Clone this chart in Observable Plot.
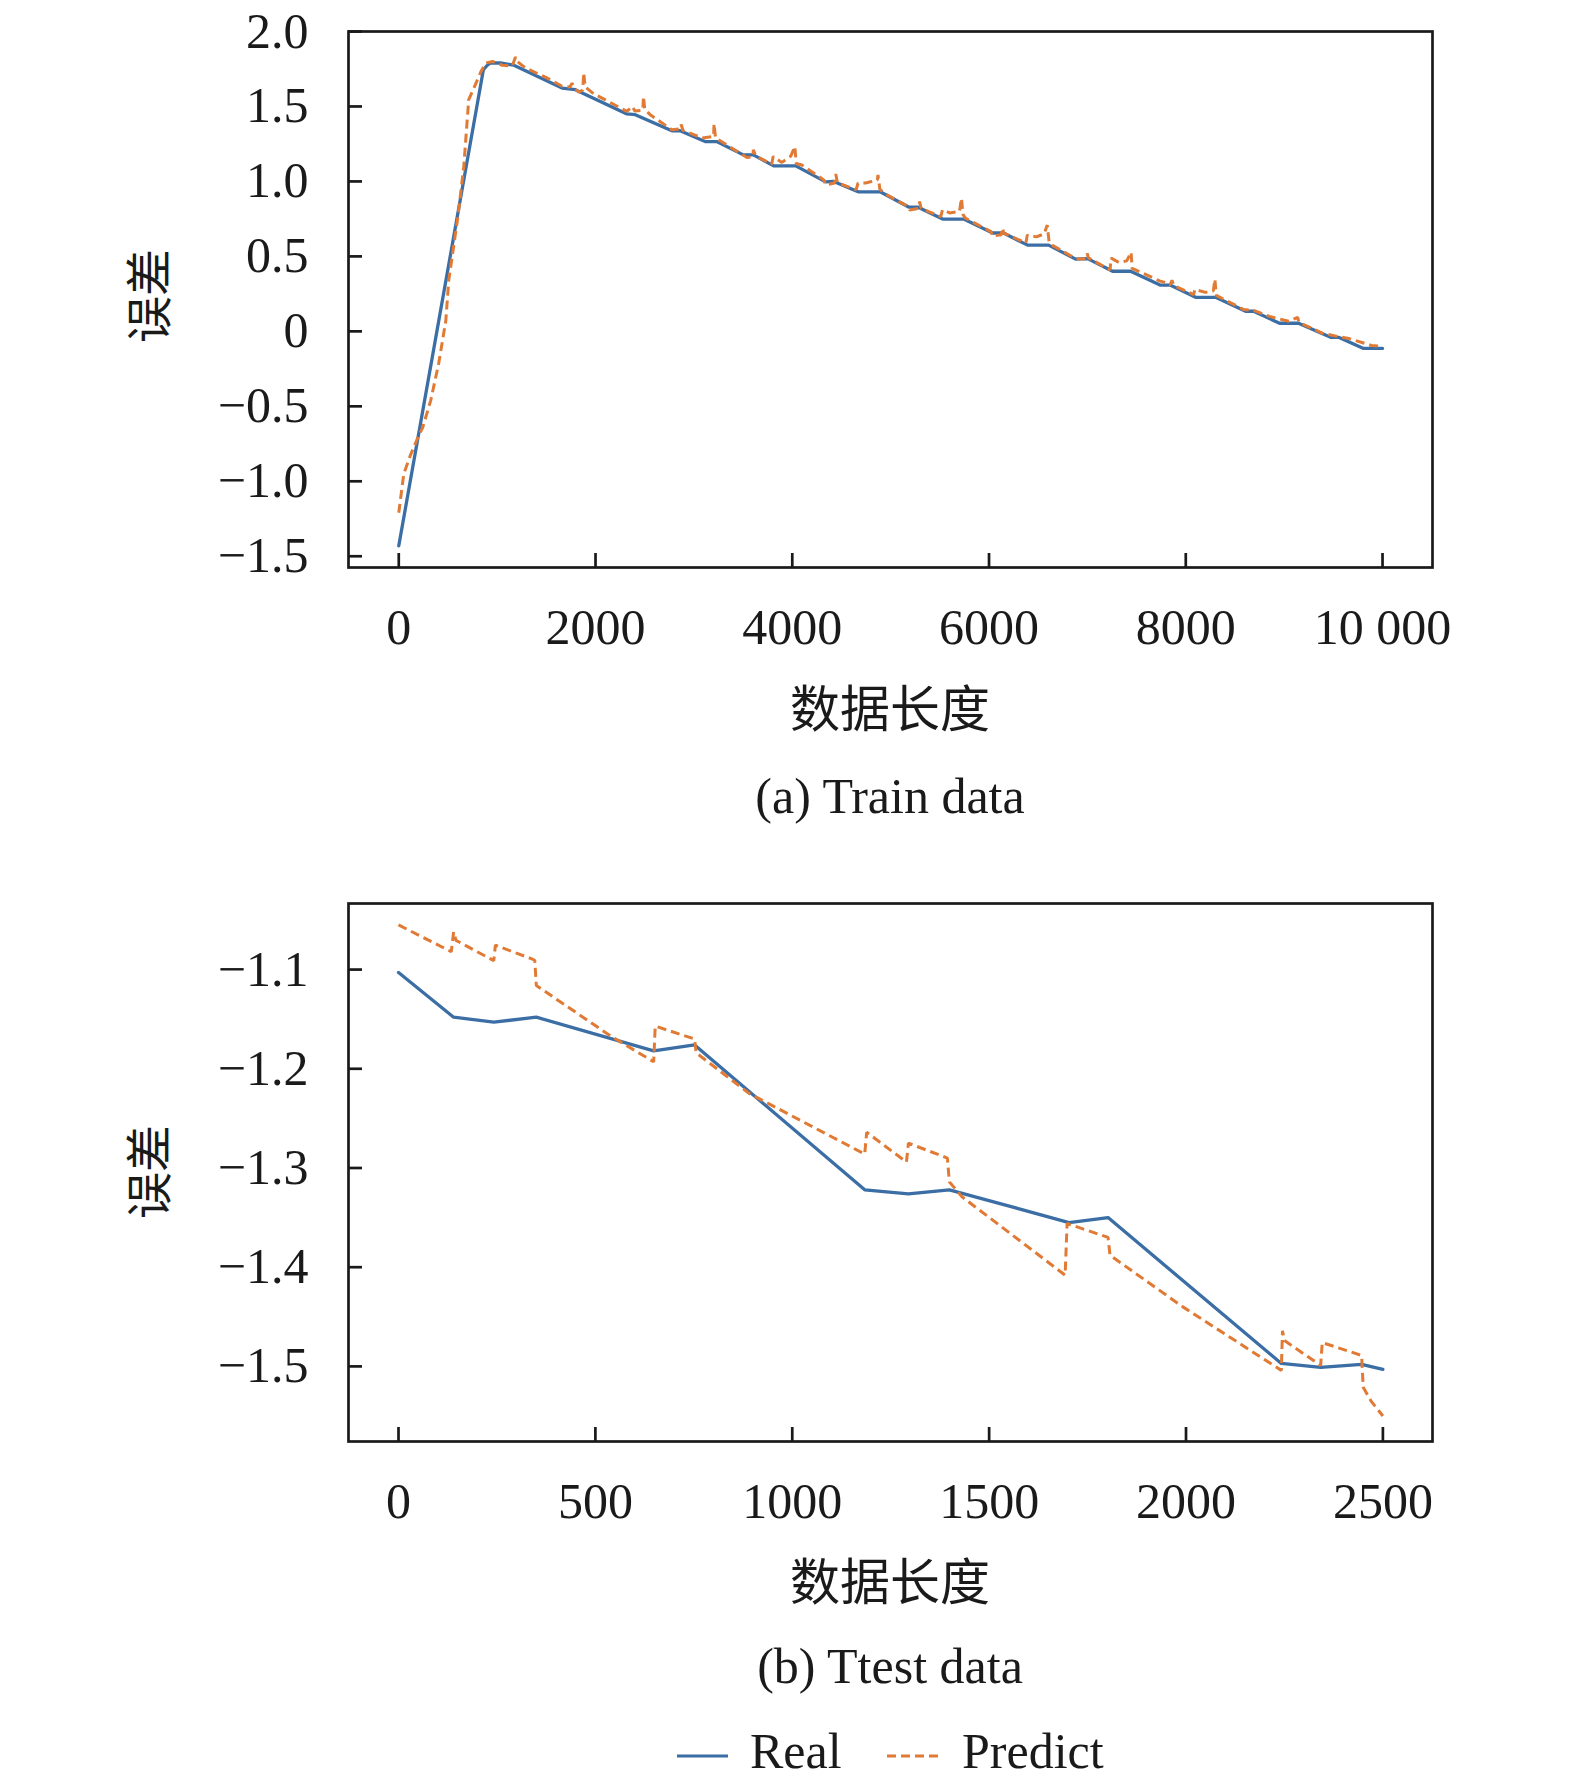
<!DOCTYPE html>
<html><head><meta charset="utf-8">
<script src="https://cdn.jsdelivr.net/npm/d3@7"></script>
<script src="https://cdn.jsdelivr.net/npm/@observablehq/plot@0.6"></script>
<style>
html,body{margin:0;padding:0;background:#fff;}
#root{position:relative;width:1575px;height:1789px;overflow:hidden;font-family:"Liberation Serif","Times New Roman",serif;color:#1a1a1a;}
.abs{position:absolute;white-space:nowrap;}
.cjk{font-family:"Noto Sans CJK SC","Noto Sans CJK TC",sans-serif;}
.ser{font-family:"Liberation Serif","Times New Roman",serif;}
.plot{position:absolute;left:0;}
</style></head><body><div id="root"></div>
<script>
// ---------- data ----------
const trainRealX = [0, 860, 900, 933, 1034, 1170, 1660, 1795, 2319, 2404, 2776, 2860, 3114, 3232, 3502, 3604, 3811, 4035, 4339, 4421, 4675, 4898, 5183, 5274, 5528, 5742, 6037, 6148, 6392, 6606, 6880, 7002, 7256, 7439, 7744, 7846, 8100, 8303, 8608, 8689, 8953, 9146, 9472, 9553, 9807, 10000];
const trainRealY = [-1.43, 1.745, 1.775, 1.79, 1.79, 1.775, 1.623, 1.612, 1.45, 1.445, 1.338, 1.338, 1.266, 1.266, 1.177, 1.177, 1.104, 1.104, 0.997, 1.0, 0.93, 0.93, 0.829, 0.829, 0.749, 0.749, 0.656, 0.656, 0.575, 0.575, 0.482, 0.485, 0.401, 0.401, 0.308, 0.308, 0.227, 0.227, 0.134, 0.134, 0.054, 0.054, -0.04, -0.04, -0.114, -0.114];

const trainPredX = [0, 51, 122, 193, 244, 325, 407, 478, 508, 600, 661, 711, 762, 833, 884, 955, 1052, 1153, 1187, 1204, 1288, 1508, 1660, 1740, 1761, 1790, 1830, 1870, 1880, 1895, 1981, 2319, 2373, 2400, 2480, 2488, 2500, 2556, 2776, 2860, 2870, 2890, 3083, 3200, 3205, 3220, 3469, 3540, 3600, 3604, 3630, 3790, 3806, 3894, 3986, 4026, 4040, 4097, 4320, 4341, 4430, 4442, 4460, 4650, 4668, 4746, 4804, 4865, 4871, 4890, 4929, 5170, 5193, 5280, 5294, 5310, 5510, 5527, 5600, 5700, 5720, 5735, 5760, 6020, 6035, 6125, 6136, 6150, 6375, 6389, 6480, 6560, 6592, 6610, 6640, 6870, 6917, 6990, 6998, 7010, 7230, 7241, 7320, 7400, 7444, 7455, 7740, 7800, 7840, 7860, 7880, 8080, 8093, 8200, 8280, 8296, 8310, 8590, 8690, 8850, 9047, 9138, 9150, 9391, 9550, 9655, 9888, 10000];
const trainPredY = [-1.21, -0.95, -0.82, -0.71, -0.64, -0.46, -0.21, 0.07, 0.34, 0.76, 1.10, 1.545, 1.62, 1.73, 1.79, 1.80, 1.775, 1.77, 1.83, 1.80, 1.757, 1.69, 1.635, 1.63, 1.655, 1.62, 1.595, 1.61, 1.725, 1.63, 1.585, 1.467, 1.50, 1.47, 1.475, 1.567, 1.48, 1.445, 1.345, 1.35, 1.38, 1.34, 1.29, 1.30, 1.385, 1.29, 1.189, 1.16, 1.165, 1.21, 1.17, 1.115, 1.166, 1.127, 1.17, 1.233, 1.12, 1.11, 1.01, 0.977, 0.99, 1.05, 0.99, 0.945, 0.988, 0.99, 0.999, 1.01, 1.043, 0.95, 0.923, 0.835, 0.81, 0.82, 0.865, 0.82, 0.765, 0.81, 0.79, 0.80, 0.888, 0.78, 0.755, 0.665, 0.635, 0.645, 0.689, 0.655, 0.59, 0.642, 0.63, 0.65, 0.709, 0.60, 0.575, 0.49, 0.482, 0.485, 0.52, 0.49, 0.41, 0.488, 0.46, 0.47, 0.528, 0.42, 0.335, 0.325, 0.31, 0.34, 0.305, 0.245, 0.28, 0.26, 0.27, 0.348, 0.24, 0.145, 0.14, 0.10, 0.067, 0.094, 0.06, -0.013, -0.035, -0.047, -0.094, -0.1];

const testRealX = [0, 140, 242, 350, 648, 752, 1184, 1295, 1399, 1703, 1802, 2242, 2342, 2446, 2500];
const testRealY = [-1.103, -1.148, -1.153, -1.148, -1.182, -1.176, -1.322, -1.326, -1.322, -1.355, -1.350, -1.497, -1.501, -1.498, -1.503];

const testPredX = [0, 134, 140, 146, 242, 246, 337, 346, 350, 535, 648, 652, 752, 756, 891, 1184, 1189, 1290, 1295, 1394, 1399, 1431, 1693, 1698, 1802, 1807, 1992, 2242, 2245, 2250, 2342, 2346, 2446, 2450, 2470, 2500];
const testPredY = [-1.055, -1.082, -1.062, -1.0705, -1.091, -1.0755, -1.089, -1.0906, -1.116, -1.166, -1.193, -1.157, -1.170, -1.184, -1.225, -1.286, -1.264, -1.294, -1.275, -1.290, -1.314, -1.329, -1.408, -1.356, -1.370, -1.388, -1.440, -1.504, -1.464, -1.474, -1.499, -1.476, -1.489, -1.521, -1.535, -1.550];

const trainXTicks = [0, 2000, 4000, 6000, 8000, 10000];
const trainYTicks = [-1.5, -1.0, -0.5, 0, 0.5, 1.0, 1.5, 2.0];
const testXTicks = [0, 500, 1000, 1500, 2000, 2500];
const testYTicks = [-1.5, -1.4, -1.3, -1.2, -1.1];

const seriesNames = ["Real", "Predict"];
const xAxisLabel = "数据长度";
const yAxisLabel = "误差";
const captions = ["(a) Train data", "(b) Ttest data"];

// ---------- styles ----------
const BLUE = "#3b6ea5";
const ORANGE = "#e07a34";
const INK = "#1a1a1a";

const zip = (X, Y) => X.map((x, i) => ({x, y: Y[i]}));
const fmtY = d => d === 0 ? "0" : (d < 0 ? "\u2212" : "") + Math.abs(d).toFixed(1);
const fmtXTrain = d => d >= 10000 ? "10\u00a0000" : String(d);
const fmtXTest = d => String(d);

function panel({height, marginTop, marginBottom, xDomain, yDomain, xTicks, yTicks, xFmt, real, pred}) {
  return Plot.plot({
    width: 1575, height,
    marginLeft: 348, marginRight: 143, marginTop, marginBottom,
    style: {fontFamily: '"Liberation Serif", "Times New Roman", serif', fontSize: "50px", color: INK, background: "transparent", overflow: "visible"},
    x: {domain: xDomain},
    y: {domain: yDomain},
    marks: [
      Plot.line(real, {x: "x", y: "y", stroke: BLUE, strokeWidth: 3.3}),
      Plot.line(pred, {x: "x", y: "y", stroke: ORANGE, strokeWidth: 3, strokeDasharray: "9,5", strokeLinecap: "butt", strokeLinejoin: "miter"}),
      Plot.frame({stroke: INK, strokeWidth: 2.7}),
      Plot.axisY({ticks: yTicks, tickFormat: fmtY, tickSize: -14, tickPadding: 54, strokeWidth: 2.7, fontSize: 50, label: null}),
      Plot.axisX({ticks: xTicks, tickFormat: xFmt, tickSize: -14, tickPadding: 55, strokeWidth: 2.7, fontSize: 50, label: null})
    ]
  });
}

const root = document.getElementById("root");

const p1 = panel({height: 740, marginTop: 31, marginBottom: 173, xDomain: [-511, 10508], yDomain: [-1.575, 2.0],
  xTicks: trainXTicks, yTicks: trainYTicks, xFmt: fmtXTrain, real: zip(trainRealX, trainRealY), pred: zip(trainPredX, trainPredY)});
p1.classList.add("plot"); p1.style.top = "0px";
root.appendChild(p1);

const p2 = panel({height: 740, marginTop: 33, marginBottom: 169, xDomain: [-127, 2626], yDomain: [-1.5757, -1.0334],
  xTicks: testXTicks, yTicks: testYTicks, xFmt: fmtXTest, real: zip(testRealX, testRealY), pred: zip(testPredX, testPredY)});
p2.classList.add("plot"); p2.style.top = "870px";
root.appendChild(p2);

function addText(text, cls, css) {
  const d = document.createElement("div");
  d.className = "abs " + cls;
  d.textContent = text;
  Object.assign(d.style, css);
  root.appendChild(d);
  return d;
}
// y labels (rotated)
[296, 1172].forEach(cy => addText(yAxisLabel, "cjk", {left: "145px", top: cy + "px", fontSize: "47px", lineHeight: "1", transform: "translate(-50%,-50%) rotate(-90deg)"}));
// x labels
[705, 1578].forEach(cy => addText(xAxisLabel, "cjk", {left: "890px", top: cy + "px", fontSize: "50px", lineHeight: "1", transform: "translate(-50%,-50%)"}));
// captions
[[captions[0], 771], [captions[1], 1641]].forEach(([t, top]) => addText(t, "ser", {left: "890px", top: top + "px", fontSize: "50px", lineHeight: "50px", transform: "translateX(-50%)"}));

// legend
function swatch(left, color, dash) {
  const ns = "http://www.w3.org/2000/svg";
  const s = document.createElementNS(ns, "svg");
  s.setAttribute("width", "54"); s.setAttribute("height", "10");
  s.style.position = "absolute"; s.style.left = left + "px"; s.style.top = "1751px";
  const l = document.createElementNS(ns, "line");
  l.setAttribute("x1", "0"); l.setAttribute("x2", "51"); l.setAttribute("y1", "5"); l.setAttribute("y2", "5");
  l.setAttribute("stroke", color); l.setAttribute("stroke-width", "3.2");
  if (dash) l.setAttribute("stroke-dasharray", dash);
  s.appendChild(l);
  root.appendChild(s);
}
swatch(677, BLUE, null);
addText(seriesNames[0], "ser", {left: "750px", top: "1726px", fontSize: "50px", lineHeight: "50px"});
swatch(887, ORANGE, "9,5");
addText(seriesNames[1], "ser", {left: "962px", top: "1726px", fontSize: "50px", lineHeight: "50px"});
</script>
</body></html>
